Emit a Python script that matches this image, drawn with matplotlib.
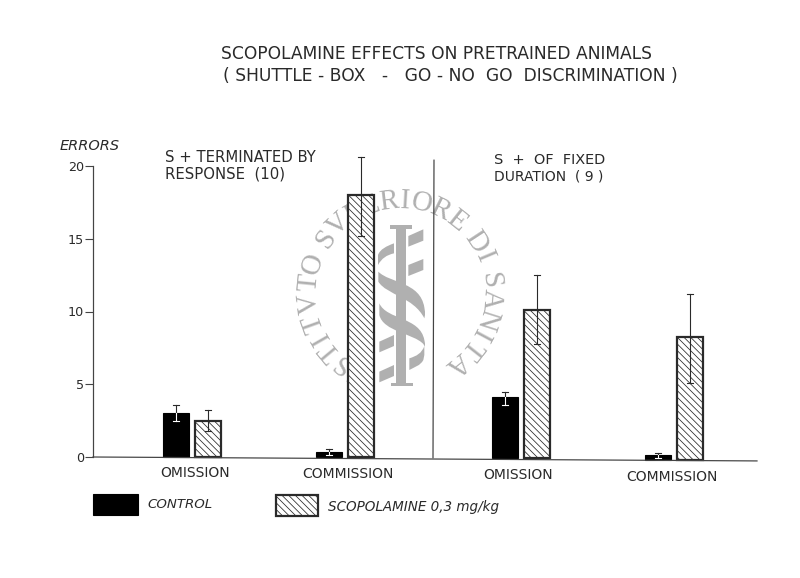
import numpy as np
import matplotlib
matplotlib.use('Agg')
import matplotlib.pyplot as plt
from matplotlib.patches import Rectangle, Polygon, PathPatch
from matplotlib.path import Path
from matplotlib.textpath import TextPath
from matplotlib.font_manager import FontProperties

# values
groups = ['OMISSION', 'COMMISSION', 'OMISSION', 'COMMISSION']
control = [3.0, 0.35, 4.2, 0.3]
control_hi = [3.6, 0.55, 4.6, 0.45]
control_lo = [2.5, 0.15, 3.7, 0.1]
scopolamine = [2.5, 18.0, 10.2, 8.4]
scopolamine_hi = [3.2, 20.6, 12.6, 11.4]
scopolamine_lo = [1.8, 15.2, 7.9, 5.3]
yticks = [0, 5, 10, 15, 20]

title1 = 'SCOPOLAMINE EFFECTS ON PRETRAINED ANIMALS'
title2 = '( SHUTTLE - BOX   -   GO - NO  GO  DISCRIMINATION )'
seal_text = 'ISTITVTO SVPERIORE DI SANITA'

plt.rcParams['hatch.linewidth'] = 0.7
plt.rcParams['font.family'] = 'DejaVu Sans'
INK = '#2a2a2a'
GREY = '#b0b0b0'
HATCH = '\\\\\\\\'

fig = plt.figure(figsize=(10, 7.225), dpi=80)

# overlay in image pixels, for the seal, the texts and the legend
bg = fig.add_axes([0, 0, 1, 1], zorder=0)
bg.set_xlim(0, 800)
bg.set_ylim(578, 0)
bg.axis('off')


def seal(bg):
    # lettering round the circle, spaced by glyph width
    cx, cy, r = 400, 292, 91
    fp = FontProperties(family='Liberation Serif')
    widths = []
    for ch in seal_text:
        if ch == ' ':
            widths.append(5)
        else:
            widths.append(TextPath((0, 0), ch, size=10, prop=fp).get_extents().width + 4)
    widths = np.array(widths)
    mids = np.cumsum(widths) - widths/2
    angles = 240 - (mids - mids[0]) / (mids[-1] - mids[0]) * 291
    for ch, a in zip(seal_text, angles):
        t = np.deg2rad(a)
        bg.text(cx + r*np.cos(t), cy - r*np.sin(t), ch, family='Liberation Serif', fontsize=26,
                color=GREY, ha='center', va='center', rotation=a - 90, rotation_mode='anchor')

    def z(pts):
        return [(370 + x/3, 220 + y/3) for x, y in pts]

    # staff
    for pts in ([(78, 20), (108, 20), (108, 490), (78, 490)],
                [(60, 15), (125, 15), (125, 28), (60, 28)],
                [(62, 488), (128, 488), (128, 498), (62, 498)],
                [(115, 48), (160, 28), (160, 62), (115, 80)],
                [(115, 135), (160, 117), (160, 150), (115, 168)],
                [(28, 365), (72, 345), (72, 378), (28, 397)],
                [(28, 455), (72, 435), (72, 468), (28, 487)]):
        bg.add_patch(Polygon(z(pts), fc=GREY, ec='none'))

    # snake
    C = Path.CURVE4
    for pts in ([(24, 105), (30, 88), (50, 78), (72, 70), (72, 80), (72, 90), (72, 100), (50, 105), (35, 115), (24, 135)],
                [(25, 155), (60, 190), (150, 185), (163, 262), (165, 275), (165, 285), (163, 295), (130, 230), (50, 225), (25, 185)],
                [(28, 250), (50, 300), (150, 290), (163, 360), (165, 370), (165, 380), (160, 372), (130, 340), (40, 335), (28, 285)],
                [(118, 415), (140, 408), (155, 400), (163, 378), (163, 390), (163, 405), (160, 420), (150, 438), (135, 440), (118, 450)]):
        verts = z(pts)
        codes = [Path.MOVETO, C, C, C, Path.LINETO, Path.LINETO, Path.LINETO, C, C, C]
        bg.add_patch(PathPatch(Path(verts, codes), fc=GREY, ec='none'))


seal(bg)

# main axes: x in image pixels along the baseline, y in errors
ax = fig.add_axes([93/800, 1 - 457/578, (757 - 93)/800, (457 - 166)/578], zorder=1)
ax.patch.set_alpha(0)
ax.set_xlim(93, 757)
ax.set_ylim(0, 20)

centers = np.array([192, 345.5, 521.5, 674.5])
drift = [0, 0, -0.1, -0.18]  # the baseline of the original runs slightly downhill
w = 26

for i, c in enumerate(centers):
    ax.bar(c - 16, control[i], w, bottom=drift[i], color='black', edgecolor='black', lw=1, clip_on=False, zorder=2)
    ax.bar(c + 16, scopolamine[i], w, bottom=drift[i], facecolor='white', edgecolor=INK, lw=2,
           hatch=HATCH, clip_on=False, zorder=2)
    # control whisker is white inside the black bar
    ax.plot([c - 16, c - 16], [control[i] + drift[i], control_hi[i] + drift[i]], color=INK, lw=1, clip_on=False, zorder=3)
    ax.plot([c - 16, c - 16], [control_lo[i] + drift[i], control[i] + drift[i]], color='white', lw=1, clip_on=False, zorder=3)
    ax.plot([c - 19, c - 13], [control_hi[i] + drift[i]]*2, color=INK, lw=1, clip_on=False, zorder=3)
    ax.plot([c - 19, c - 13], [control_lo[i] + drift[i]]*2, color='white', lw=1, clip_on=False, zorder=3)
    ax.plot([c + 16, c + 16], [scopolamine_lo[i] + drift[i], scopolamine_hi[i] + drift[i]], color=INK, lw=1, clip_on=False, zorder=3)
    ax.plot([c + 13, c + 19], [scopolamine_hi[i] + drift[i]]*2, color=INK, lw=1, clip_on=False, zorder=3)
    ax.plot([c + 13, c + 19], [scopolamine_lo[i] + drift[i]]*2, color=INK, lw=1, clip_on=False, zorder=3)

ax.plot([93, 757], [0, -0.27], color='#444444', lw=1.1, clip_on=False, zorder=4)
ax.plot([434, 433], [20.4, -0.05], color='#444444', lw=1.1, clip_on=False, zorder=4)

for s in ['top', 'right', 'bottom']:
    ax.spines[s].set_visible(False)
ax.spines['left'].set_bounds(0, 20)
ax.spines['left'].set_color('#444444')
ax.spines['left'].set_linewidth(1.1)
ax.set_xticks([])
ax.set_yticks(yticks)
ax.tick_params(axis='y', length=7, width=1, color='#444444', labelsize=11.5, labelcolor=INK, pad=1)


# texts
def label(x, y, s, **kw):
    kw.setdefault('fontsize', 12.5)
    bg.text(x, y, s, color=INK, va='center', **kw)


label(221, 54, title1, fontsize=15.4)
label(223, 76, title2, fontsize=15.4)
label(60, 146, 'ERRORS', style='italic', fontsize=13)
label(165, 157, 'S + TERMINATED BY', fontsize=13.4)
label(165, 174, 'RESPONSE  (10)', fontsize=13.4)
label(494, 160, 'S  +  OF  FIXED', fontsize=13)
label(494, 177, 'DURATION  ( 9 )', fontsize=12.5)

label_y = [473, 474, 475, 477]
for c, g, y, dx in zip(centers, groups, label_y, [3, 2.5, -3.5, -2.5]):
    label(c + dx, y, g, ha='center')

# legend
bg.add_patch(Rectangle((93, 494), 45, 21, fc='black', ec='black'))
bg.add_patch(Rectangle((276, 495), 42, 21, fc='white', ec=INK, lw=2, hatch=HATCH))
label(147, 505, 'CONTROL', style='italic', fontsize=12)
label(328, 507, 'SCOPOLAMINE 0,3 mg/kg', style='italic', fontsize=12.2)

fig.savefig('out.png', dpi=80)
